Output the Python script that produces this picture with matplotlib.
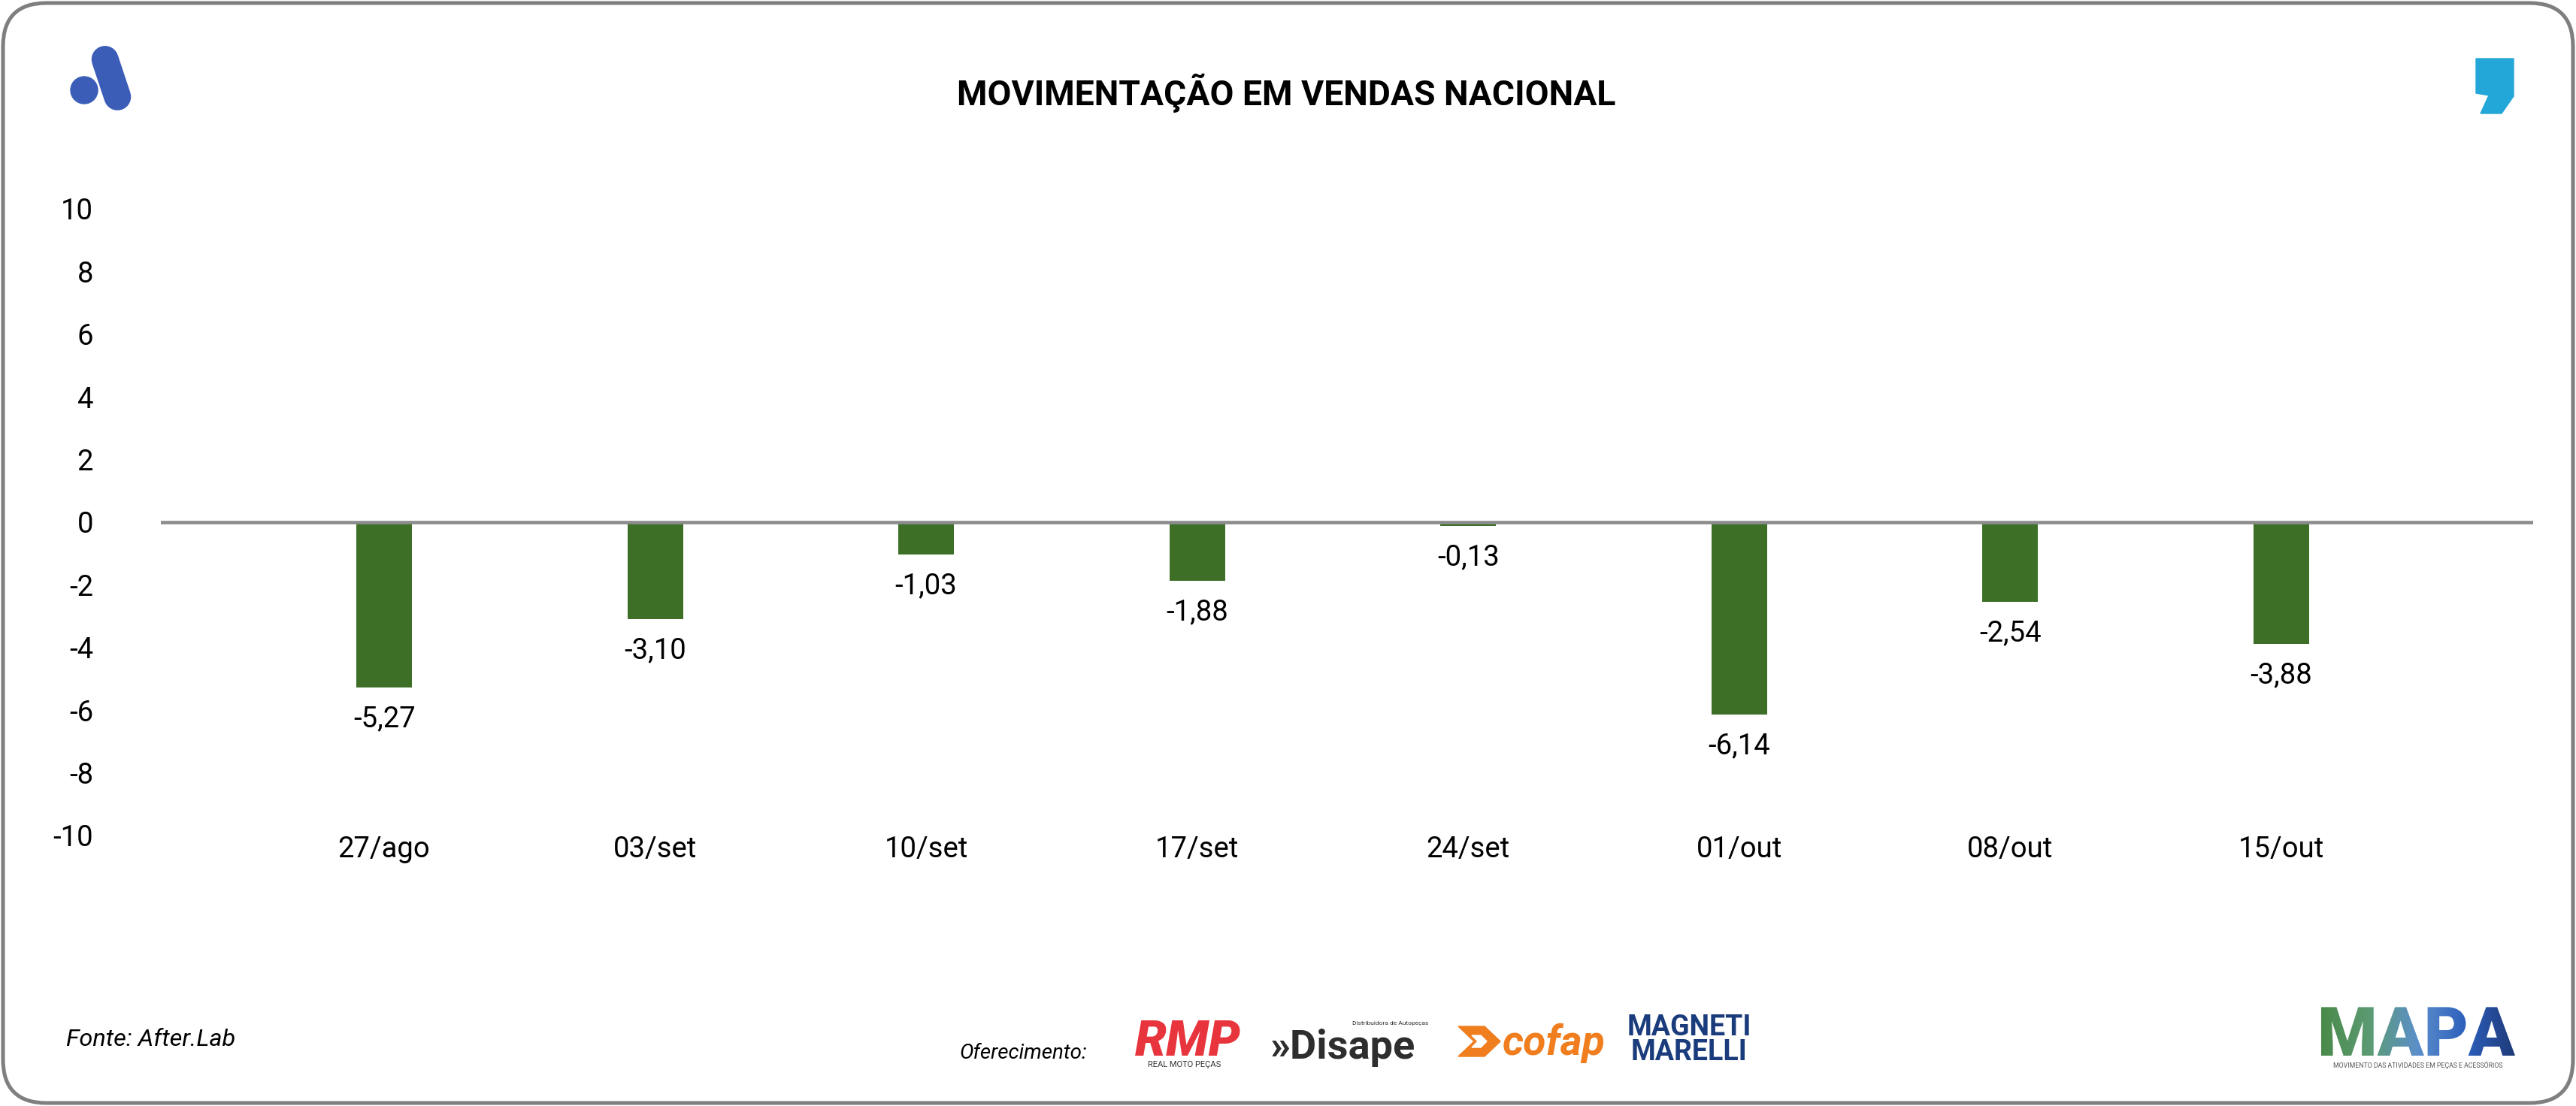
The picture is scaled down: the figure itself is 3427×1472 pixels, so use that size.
import numpy as np
import matplotlib
matplotlib.use("Agg")
import matplotlib.pyplot as plt
from matplotlib.patches import FancyBboxPatch, Circle, Polygon, PathPatch
from matplotlib.textpath import TextPath
from matplotlib.font_manager import FontProperties
from matplotlib.transforms import Affine2D
from matplotlib.colors import to_rgb

# dados
semanas = ["27/ago", "03/set", "10/set", "17/set", "24/set", "01/out", "08/out", "15/out"]
variacao = [-5.27, -3.10, -1.03, -1.88, -0.13, -6.14, -2.54, -3.88]
y_ticks = [-10, -8, -6, -4, -2, 0, 2, 4, 6, 8, 10]

titulo = "MOVIMENTAÇÃO EM VENDAS NACIONAL"
fonte = "Fonte: After.Lab"

W, H = 3427, 1472
plt.rcParams['font.family'] = ['Roboto', 'DejaVu Sans']
fig = plt.figure(figsize=(W / 100, H / 100), dpi=100)
fig.patch.set_facecolor("white")

# camada de fundo em pixels
bg = fig.add_axes([0, 0, 1, 1], zorder=0)
bg.set_xlim(0, W)
bg.set_ylim(H, 0)
bg.axis("off")

borda = FancyBboxPatch((4, 4), W - 8, H - 8, boxstyle="round,pad=0,rounding_size=58",
                       facecolor="white", edgecolor="#7F7F7F", linewidth=3.6)
bg.add_patch(borda)

# logo "A" azul
azul = "#3B5DB8"
bg.add_patch(Circle((112, 120), 18, color=azul))
bg.plot([139.7, 156.3], [79, 128.9], color=azul, lw=25.9, solid_capstyle="round")

# virgula azul a direita
bg.add_patch(Polygon([(3294, 78), (3344, 78), (3344, 128), (3328, 151), (3300, 151),
                      (3311, 127), (3294, 124)], closed=True, color="#22A7D8"))

bg.text(1711, 140, titulo, ha="center", va="baseline", fontsize=33.3,
        fontweight="bold", color="black")

bg.text(88, 1392, fonte, ha="left", va="baseline", fontsize=23.4, style="italic")
bg.text(1276, 1409, "Oferecimento:", ha="left", va="baseline", fontsize=20, style="italic")

# logos patrocinadores (aproximados em texto)
bg.text(1580, 1405, "RMP", ha="center", va="baseline", fontsize=48, fontweight="black",
        style="italic", color="#E8343C")
bg.text(1576, 1420, "REAL MOTO PEÇAS", ha="center", va="baseline", fontsize=8, color="#333333")
bg.text(1690, 1409, "»Disape", ha="left", va="baseline", fontsize=39, fontweight="bold",
        color="#2E2E2E")
bg.text(1900, 1364, "Distribuidora de Autopeças", ha="right", va="baseline", fontsize=6,
        color="#333333")
laranja = "#F07D1E"
bg.add_patch(Polygon([(1940, 1366), (1975, 1366), (1996, 1386), (1975, 1406), (1940, 1406),
                      (1961, 1386)], closed=True, color=laranja))
bg.add_patch(Polygon([(1958, 1378), (1970, 1378), (1978, 1386), (1970, 1394), (1958, 1394),
                      (1966, 1386)], closed=True, color="white"))
bg.text(1998, 1404, "cofap", ha="left", va="baseline", fontsize=40, fontweight="bold",
        style="italic", color=laranja)
bg.text(2247, 1384, "MAGNETI\nMARELLI", ha="center", va="center", fontsize=27,
        fontweight="bold", color="#1B3C7C", linespacing=0.85)

# MAPA com gradiente
fp = FontProperties(family="Roboto", weight="black")
tp = TextPath((0, 0), "MAPA", size=1, prop=fp)
ext = tp.get_extents()
s = 258 / ext.width
tr = Affine2D().translate(-ext.x0, -ext.y0).scale(s, -s).translate(3088, 1405)
patch = PathPatch(tr.transform_path(tp), facecolor="none", edgecolor="none")
bg.add_patch(patch)
stops = [to_rgb(c) for c in ["#4A8A4A", "#5C9B72", "#5B8FCB", "#2C5FBC", "#1F3A78"]]
pos = np.linspace(0, 1, len(stops))
t = np.linspace(0, 1, 300)
grad = np.stack([np.interp(t, pos, [c[i] for c in stops]) for i in range(3)], axis=-1)[None, :, :]
im = bg.imshow(grad, extent=(3088, 3346, 1405, 1405 - ext.height * s), aspect="auto", zorder=2)
im.set_clip_path(patch)
bg.text(3217, 1421, "MOVIMENTO DAS ATIVIDADES EM PEÇAS E ACESSÓRIOS", ha="center",
        va="baseline", fontsize=6.3, color="#555555")
bg.set_xlim(0, W)
bg.set_ylim(H, 0)

# grafico
ax = fig.add_axes([0.06245, 0.2446, 0.92092, 0.5666], zorder=1)
ax.set_facecolor("none")
x = np.arange(len(semanas))
ax.bar(x, variacao, width=0.205, color="#3D7026", zorder=2)
ax.axhline(0, color="#8C8C8C", lw=3.3, zorder=3)
for xi, v in zip(x, variacao):
    ax.annotate(f"{v:.2f}".replace(".", ","), (xi, v), xytext=(0, -30),
                textcoords="offset points", ha="center", va="center", fontsize=27.5)

ax.set_xlim(-0.824, 7.93)
ax.set_ylim(-10, 10)
ax.set_yticks(y_ticks)
ax.set_yticklabels([str(t) for t in y_ticks], fontsize=27.5)
ax.set_xticks(x)
ax.set_xticklabels(semanas, fontsize=27.5)
ax.tick_params(axis="y", length=0, pad=64.8)
ax.tick_params(axis="x", length=0, pad=0)
for sp in ax.spines.values():
    sp.set_visible(False)

fig.savefig("out.png", dpi=100)
